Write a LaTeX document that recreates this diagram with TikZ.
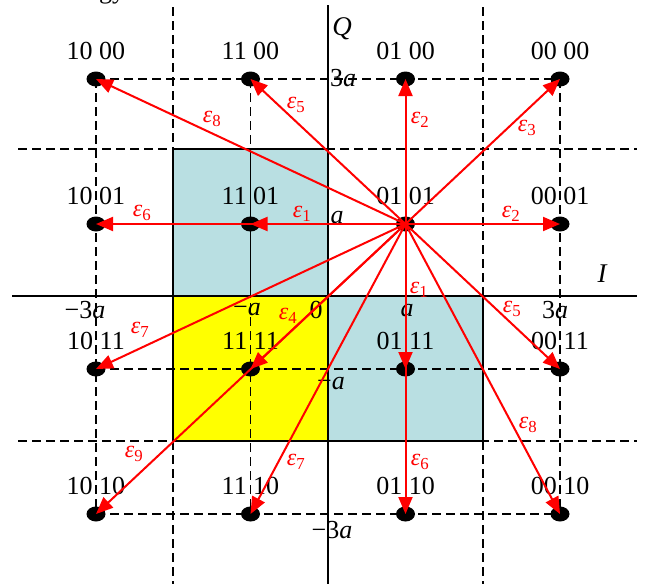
\documentclass[tikz,border=0pt]{standalone}
\usepackage{fontspec}
\setmainfont{Liberation Serif}
\usetikzlibrary{arrows.meta,shapes.geometric}
\definecolor{lblue}{RGB}{185,223,226}
\definecolor{eyel}{RGB}{255,255,0}
\definecolor{ered}{RGB}{255,0,0}
\newcommand\epsl[1]{\textit{ε}\textsubscript{#1}}
\begin{document}
\begin{tikzpicture}[x=1pt,y=-1pt,
  gridline/.style={dash pattern=on 9pt off 5pt, line width=1.7pt, black},
  boxline/.style={line width=1.6pt, black},
  axisline/.style={line width=1.8pt, black},
  dotnode/.style={shape=ellipse, fill=black, minimum width=19pt, minimum height=15pt, inner sep=0pt},
  ptlabel/.style={font=\fontsize{26}{28}\selectfont, inner sep=0pt},
  axlabel/.style={font=\fontsize{26}{28}\selectfont, inner sep=0pt},
  errarrow/.style={ered, line width=2pt, -{Triangle[length=17pt,width=14pt]}},
  errlabel/.style={text=ered, font=\fontsize{24}{26}\selectfont, inner sep=0pt}]
\useasboundingbox (0,0) rectangle (649,584);
% boxes
\fill[lblue] (173,149) rectangle (328,296);
\fill[lblue] (328,296) rectangle (483,441);
\fill[eyel] (173,296) rectangle (328,441);
% dashed grid
\foreach \x in {96,250.5,405.5,560} \draw[gridline] (\x,79) -- (\x,514);
\foreach \x in {173,483} \draw[gridline] (\x,7) -- (\x,584);
\foreach \y in {79,224,369,514} \draw[gridline] (96,\y) -- (560,\y);
\foreach \y in {149,441} \draw[gridline] (18,\y) -- (637,\y);
% box borders
\draw[boxline] (173,149) rectangle (328,296);
\draw[boxline] (328,296) rectangle (483,441);
\draw[boxline] (173,296) rectangle (328,441);
\draw[boxline] (250.5,149) -- (250.5,296);
% axes
\draw[axisline] (328,5) -- (328,584);
\draw[axisline] (12,296) -- (637,296);
\node[axlabel, font=\fontsize{27}{28}\selectfont\itshape] (qlab) at (342,29) {Q};
\node[axlabel, font=\fontsize{27}{28}\selectfont\itshape] (ilab) at (602,274) {I};
% tick labels
\node[axlabel] (t3a) at (343,78) {3\textit{a}};
\node[axlabel] (ta) at (337,218) {\textit{a}};
\node[axlabel] (tm3a) at (85,310) {−3\textit{a}};
\node[axlabel] (tma) at (247,310) {−\textit{a}};
\node[axlabel] (tzero) at (316,310) {0};
\node[axlabel] (tar) at (407,311) {\textit{a}};
\node[axlabel] (t3ar) at (555,310) {3\textit{a}};
\node[axlabel] (tmaq) at (331,384) {−\textit{a}};
\node[axlabel] (tm3aq) at (332,530) {−3\textit{a}};
% partial text at top edge
\node[axlabel, anchor=base] (frag) at (112,-2) {gy};
% dots and labels
\foreach \lab/\x/\y in {1000/96/79, 1100/250.5/79, 0100/405.5/79, 0000/560/79,
  1001/96/224, 1101/250.5/224, 0101/405.5/224, 0001/560/224,
  1011/96/369, 1111/250.5/369, 0111/405.5/369, 0011/560/369,
  1010/96/514, 1110/250.5/514, 0110/405.5/514, 0010/560/514} {
  \node[dotnode] (d\lab) at (\x,\y) {};
}
\foreach \lab/\txt in {1000/10 00, 1100/11 00, 0100/01 00, 0000/00 00,
  1001/10 01, 1101/11 01, 0101/01 01, 0001/00 01,
  1011/10 11, 1111/11 11, 0111/01 11, 0011/00 11,
  1010/10 10, 1110/11 10, 0110/01 10, 0010/00 10} {
  \node[ptlabel] (l\lab) at ([yshift=28pt]d\lab.center) {\txt};
}
% error vectors
\foreach \t in {1000,1100,0100,0000,1001,1101,0001,1011,1111,0111,0011,1010,1110,0110,0010}
  \draw[errarrow] (d0101.center) -- (d\t.center);
% error labels
\node[errlabel] (e1000) at (212,119) {\epsl{8}};
\node[errlabel] (e1100) at (296,105) {\epsl{5}};
\node[errlabel] (e0100) at (420,120) {\epsl{2}};
\node[errlabel] (e0000) at (527,128) {\epsl{3}};
\node[errlabel] (e1001) at (142,213) {\epsl{6}};
\node[errlabel] (e1101) at (302,214) {\epsl{1}};
\node[errlabel] (e0001) at (511,214) {\epsl{2}};
\node[errlabel] (e1011) at (140,330) {\epsl{7}};
\node[errlabel] (e1111) at (288,316) {\epsl{4}};
\node[errlabel] (e0111) at (419,290) {\epsl{1}};
\node[errlabel] (e0011) at (512,309) {\epsl{5}};
\node[errlabel] (e1010) at (134,454) {\epsl{9}};
\node[errlabel] (e1110) at (296,462) {\epsl{7}};
\node[errlabel] (e0110) at (420,462) {\epsl{6}};
\node[errlabel] (e0010) at (528,425) {\epsl{8}};
\end{tikzpicture}
\end{document}
